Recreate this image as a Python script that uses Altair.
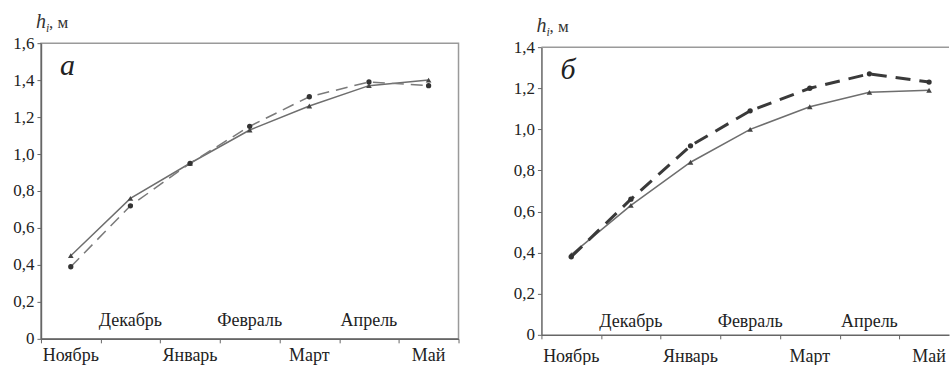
import altair as alt
import pandas as pd

# Months of the ice season (Nov–May)
months = ["Ноябрь", "Декабрь", "Январь", "Февраль", "Март", "Апрель", "Май"]

# Panel "а": ice thickness h_i, m
a_calc = [0.45, 0.76, 0.95, 1.13, 1.26, 1.37, 1.40]   # solid line, triangles
a_obs = [0.39, 0.72, 0.95, 1.15, 1.31, 1.39, 1.37]    # dashed line, circles

# Panel "б": ice thickness h_i, m
b_calc = [0.39, 0.63, 0.84, 1.00, 1.11, 1.18, 1.19]
b_obs = [0.38, 0.66, 0.92, 1.09, 1.20, 1.27, 1.23]

a_ticks = [0, 0.2, 0.4, 0.6, 0.8, 1.0, 1.2, 1.4, 1.6]
b_ticks = [0, 0.2, 0.4, 0.6, 0.8, 1.0, 1.2, 1.4]

SERIF = "'Liberation Serif', 'Times New Roman', 'DejaVu Serif', serif"
STEP = 59.7          # pixels per month
FRAME = "#9a9a9a"


def frame(calc, obs):
    rows = []
    for i, m in enumerate(months):
        rows.append({"pos": i + 0.5, "month": m, "idx": i, "series": "calc", "h": calc[i]})
        rows.append({"pos": i + 0.5, "month": m, "idx": i, "series": "obs", "h": obs[i]})
    return pd.DataFrame(rows)


def panel(calc, obs, ymax, ticks, height, width, letter, dash_w, dash_pat, dash_col,
          closed, up_off, low_off):
    df = frame(calc, obs)
    xmax = width / STEP
    x = alt.X("pos:Q", scale=alt.Scale(domain=[0, xmax], nice=False, zero=False),
              axis=alt.Axis(values=[v for v in range(8) if v <= xmax + 1e-6], labels=False,
                            title=None, grid=False, tickSize=4, tickColor="#666",
                            domainColor="#666", domainWidth=1.5))
    y = alt.Y("h:Q", scale=alt.Scale(domain=[0, ymax], nice=False),
              axis=alt.Axis(values=ticks, title=None, grid=False, tickSize=4,
                            tickColor="#666", domainColor="#666", domainWidth=1.5,
                            labelFont=SERIF, labelFontSize=17, labelColor="#222",
                            labelPadding=3,
                            labelExpr="datum.value == 0 ? '0' : replace(format(datum.value, '.1f'), '.', ',')"))
    base = alt.Chart(df)
    calc_line = base.transform_filter("datum.series == 'calc'").mark_line(
        color="#6e6e6e", strokeWidth=1.5).encode(x=x, y=y)
    calc_pts = base.transform_filter("datum.series == 'calc'").mark_point(
        shape="triangle-up", filled=True, size=32, color="#444", opacity=1).encode(x=x, y=y)
    obs_line = base.transform_filter("datum.series == 'obs'").mark_line(
        color=dash_col, strokeWidth=dash_w, strokeDash=dash_pat).encode(x=x, y=y)
    obs_pts = base.transform_filter("datum.series == 'obs'").mark_point(
        shape="circle", filled=True, size=28, color="#333", opacity=1).encode(x=x, y=y)

    # staggered month labels: odd months inside the plot, even months under the axis
    lab_upper = base.transform_filter("datum.series == 'calc' && datum.idx % 2 == 1").mark_text(
        font=SERIF, fontSize=18, color="#222", baseline="alphabetic").encode(
        x=x, y=alt.value(height - up_off), text="month:N")
    lab_lower = base.transform_filter("datum.series == 'calc' && datum.idx % 2 == 0").mark_text(
        font=SERIF, fontSize=18, color="#222", baseline="alphabetic").encode(
        x=x, y=alt.value(height + low_off), text="month:N")

    one = alt.Chart(pd.DataFrame({"t": [0]}))
    letter_txt = one.mark_text(font=SERIF, fontSize=30, fontStyle="italic", color="#222",
                               align="left", baseline="alphabetic").encode(
        x=alt.value(19), y=alt.value(32), text=alt.value(letter))
    h_txt = one.mark_text(font=SERIF, fontSize=20, fontStyle="italic", color="#333",
                          align="left", baseline="alphabetic").encode(
        x=alt.value(-5), y=alt.value(-15), text=alt.value("h"))
    i_txt = one.mark_text(font=SERIF, fontSize=12, fontStyle="italic", color="#333",
                          align="left", baseline="alphabetic").encode(
        x=alt.value(5), y=alt.value(-11), text=alt.value("i"))
    m_txt = one.mark_text(font=SERIF, fontSize=17, color="#333",
                          align="left", baseline="alphabetic").encode(
        x=alt.value(8), y=alt.value(-15), text=alt.value(", м"))

    layers = [calc_line, obs_line, calc_pts, obs_pts, lab_upper, lab_lower,
              letter_txt, h_txt, i_txt, m_txt]
    if closed:
        view = alt.ViewBackground(stroke=FRAME, strokeWidth=1.5)
    else:
        # open on the right: only the top edge of the frame
        top_edge = one.mark_rule(color=FRAME, strokeWidth=1.5).encode(
            x=alt.value(0), x2=alt.value(width), y=alt.value(0))
        layers.insert(0, top_edge)
        view = alt.ViewBackground(stroke="transparent")
    return alt.layer(*layers).properties(width=width, height=height, view=view)


left = panel(a_calc, a_obs, 1.6, a_ticks, 296, 418, "а", 1.5, [12, 7], "#7a7a7a",
             True, 13, 22)
right = panel(b_calc, b_obs, 1.4, b_ticks, 288, 408, "б", 3, [15, 9], "#3a3a3a",
              False, 8, 27)

chart = alt.hconcat(left, right, spacing=83, bounds="flush", center=True).properties(
    padding={"left": 12, "top": 11, "right": 0, "bottom": 0}
).configure(background="white")

chart.save("out.html", embed_options={"renderer": "svg", "actions": False})
